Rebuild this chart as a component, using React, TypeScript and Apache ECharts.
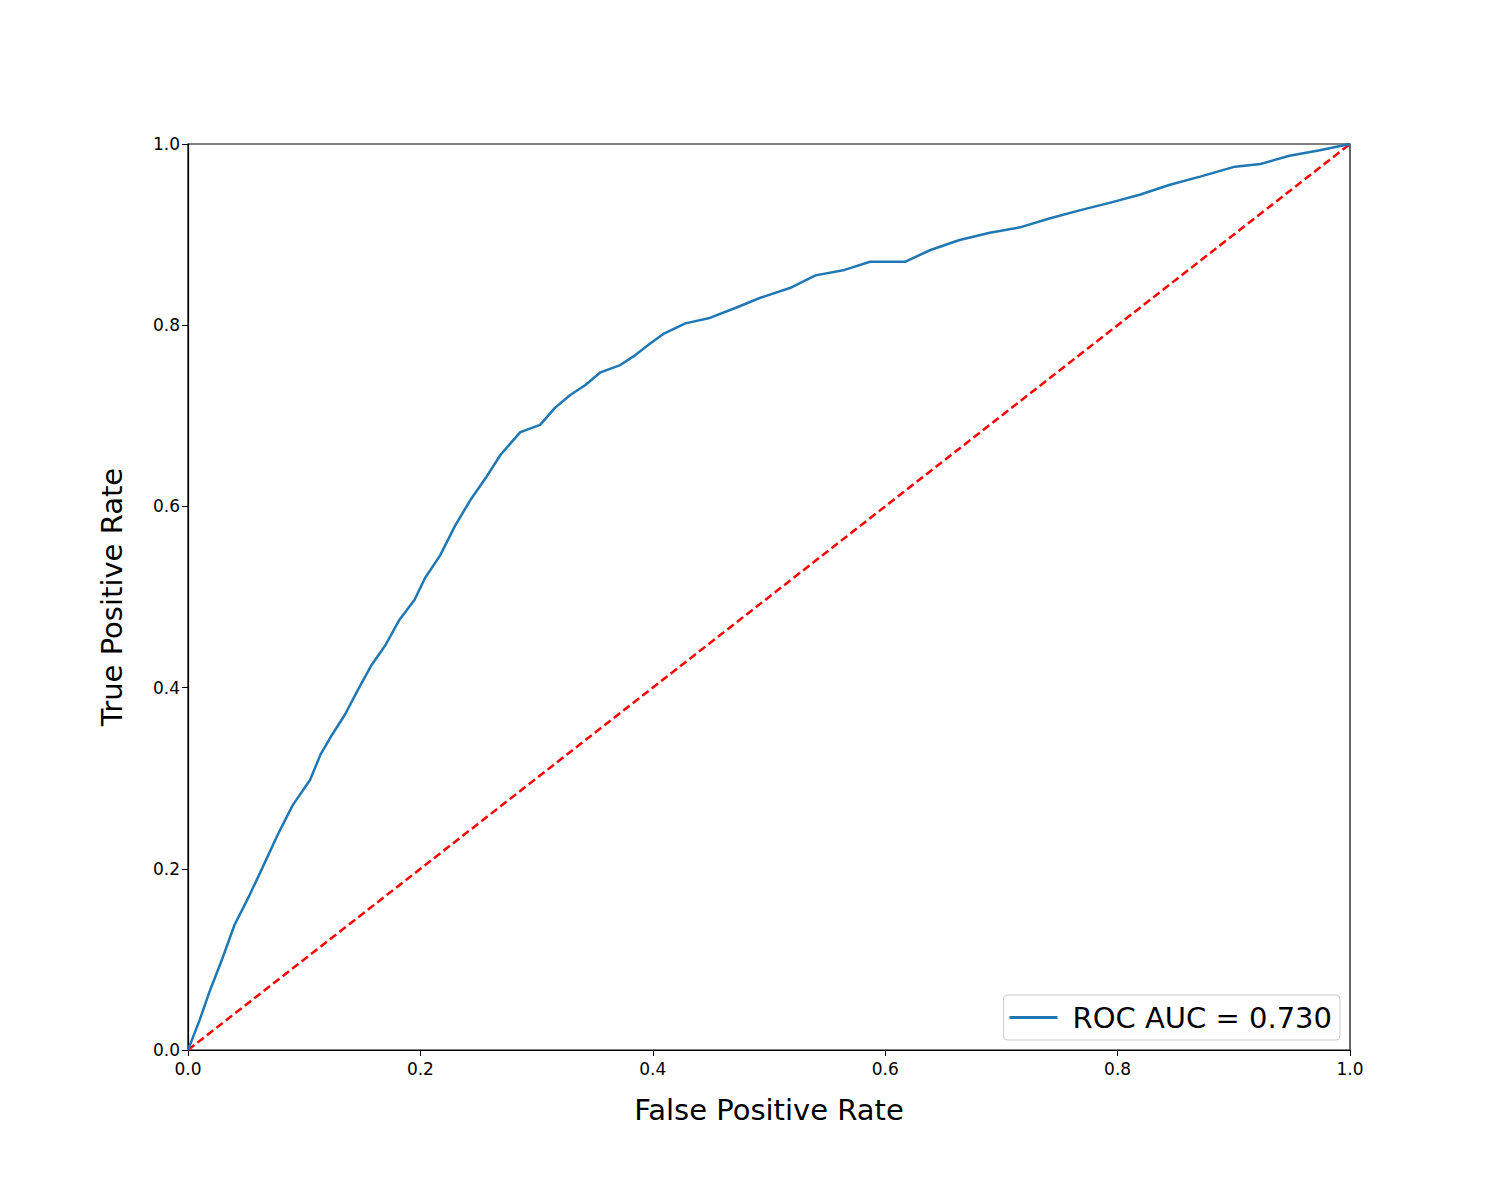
import React, { useRef, useEffect } from "react";
import * as echarts from "echarts";

const fpr = [0, 0.01, 0.019, 0.029, 0.04, 0.053, 0.064, 0.077, 0.09, 0.105, 0.114, 0.124, 0.135, 0.146, 0.158, 0.17, 0.182, 0.195, 0.204, 0.217, 0.23, 0.243, 0.256, 0.269, 0.286, 0.303, 0.316, 0.329, 0.342, 0.355, 0.372, 0.385, 0.398, 0.41, 0.428, 0.449, 0.471, 0.492, 0.518, 0.54, 0.565, 0.587, 0.617, 0.639, 0.664, 0.69, 0.716, 0.742, 0.768, 0.793, 0.819, 0.845, 0.871, 0.901, 0.923, 0.948, 0.974, 1];
const tpr = [0, 0.033, 0.066, 0.099, 0.138, 0.171, 0.201, 0.237, 0.27, 0.298, 0.326, 0.348, 0.37, 0.397, 0.425, 0.447, 0.475, 0.497, 0.521, 0.546, 0.579, 0.607, 0.631, 0.657, 0.682, 0.69, 0.709, 0.723, 0.734, 0.748, 0.756, 0.767, 0.78, 0.791, 0.802, 0.808, 0.819, 0.83, 0.841, 0.855, 0.861, 0.87, 0.87, 0.883, 0.894, 0.902, 0.908, 0.918, 0.927, 0.935, 0.944, 0.955, 0.964, 0.975, 0.978, 0.987, 0.993, 1];
const diagonal = [0, 1];
const rocLabel = "ROC AUC = 0.730";

const font = "DejaVu Sans";

export default function App() {
  const ref = useRef<HTMLDivElement>(null);

  useEffect(() => {
    document.body.style.margin = "0";
    if (!ref.current) return;
    const chart = echarts.init(ref.current, null, { renderer: "svg" });
    const axisCommon = {
      type: "value",
      min: 0,
      max: 1,
      interval: 0.2,
      axisLine: { show: true, onZero: false, lineStyle: { color: "#000", width: 1.2 } },
      axisTick: { show: true, inside: false, length: 6, lineStyle: { color: "#000" } },
      axisLabel: { color: "#000", fontSize: 17, fontFamily: font, formatter: (v: number) => v.toFixed(1) },
      splitLine: { show: false },
      nameLocation: "middle",
      nameTextStyle: { color: "#000", fontSize: 29, fontFamily: font },
    };
    chart.setOption({
      animation: false,
      backgroundColor: "#fff",
      grid: { left: 188, right: 150, top: 144, bottom: 150, show: true, borderColor: "#000", borderWidth: 1.2 },
      xAxis: { ...axisCommon, name: "False Positive Rate", nameGap: 45, axisLabel: { ...axisCommon.axisLabel, margin: 10 } },
      yAxis: { ...axisCommon, name: "True Positive Rate", nameGap: 62 },
      legend: {
        right: 160,
        bottom: 160,
        data: [rocLabel],
        orient: "vertical",
        itemWidth: 48,
        itemHeight: 3,
        icon: "rect",
        padding: [8, 8, 8, 6],
        borderColor: "#ccc",
        borderWidth: 1,
        borderRadius: 4,
        backgroundColor: "#fff",
        textStyle: { fontSize: 29, fontFamily: font, color: "#000", padding: [0, 0, 0, 10] },
      },
      series: [
        {
          name: rocLabel,
          type: "line",
          data: fpr.map((x, i) => [x, tpr[i]]),
          symbol: "none",
          lineStyle: { color: "#1f77b4", width: 2.5 },
          itemStyle: { color: "#1f77b4" },
        },
        {
          name: "diag",
          type: "line",
          data: diagonal.map((v) => [v, v]),
          symbol: "none",
          lineStyle: { color: "#ff0000", width: 2.5, type: [8, 4] },
          z: 1,
        },
      ],
    });
    return () => chart.dispose();
  }, []);

  return <div ref={ref} style={{ width: 1500, height: 1200 }} />;
}
